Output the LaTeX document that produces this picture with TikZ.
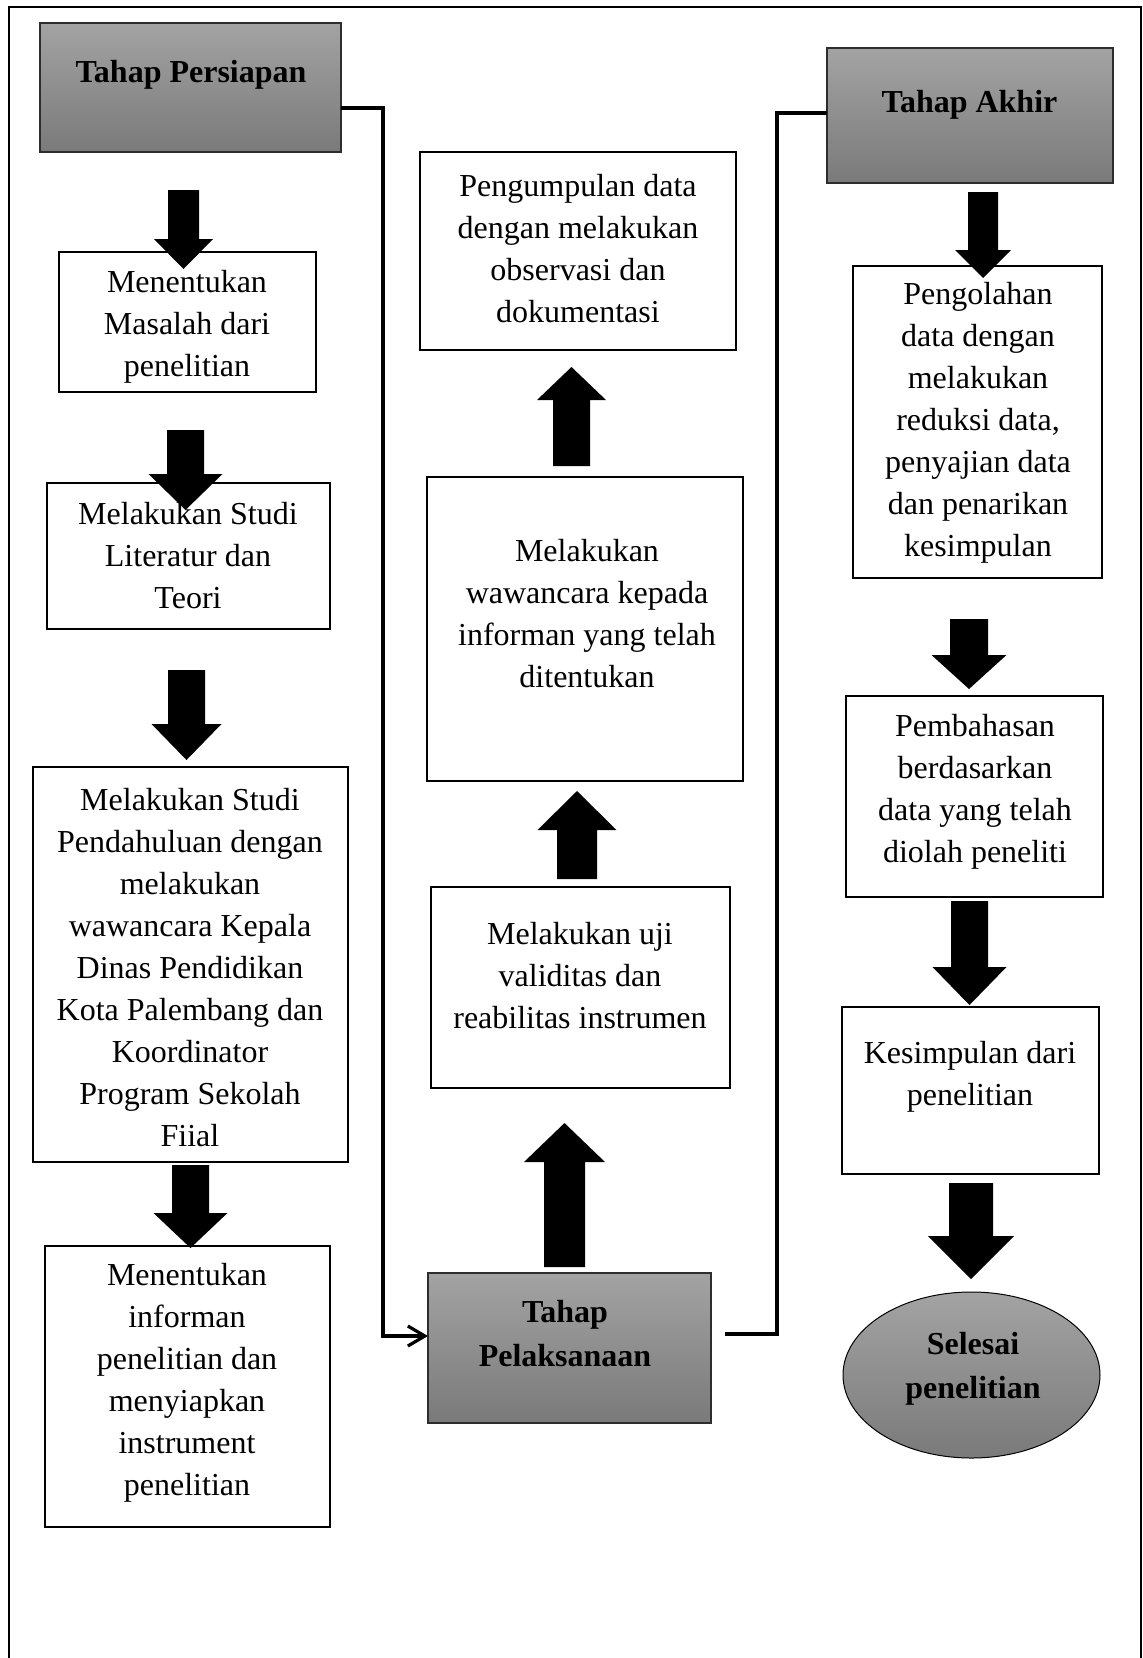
\documentclass[tikz,border=0pt]{standalone}
\usepackage{fontspec}
\setmainfont{Liberation Serif}
\usetikzlibrary{arrows.meta,calc,shapes.geometric}
\definecolor{gtop}{RGB}{163,163,163}
\definecolor{gbot}{RGB}{122,122,122}
\definecolor{gedge}{RGB}{45,45,45}
% block arrow from named point #1 to named point #2: shaft width #3, head width #4, head length #5
\newcommand{\blockarrow}[5]{%
  \path[blockfill] let \p1=(#1), \p2=(#2), \n1={sign(\y2-\y1)}, \n2={\y2-(\n1)*#5} in
    ({\x1-#3/2},\y1) -- ({\x1-#3/2},\n2) -- ({\x1-#4/2},\n2) -- (\x1,\y2)
    -- ({\x1+#4/2},\n2) -- ({\x1+#3/2},\n2) -- ({\x1+#3/2},\y1) -- cycle;}
\begin{document}
\begin{tikzpicture}[x=1pt,y=-1pt,
  box/.style={draw=black, line width=2pt, fill=white, inner sep=0pt, outer sep=0pt},
  phase/.style={draw=gedge, line width=1.4pt, top color=gtop, bottom color=gbot, inner sep=0pt, outer sep=0pt},
  endnode/.style={ellipse, draw=black, line width=1pt, top color=gtop, bottom color=gbot, inner sep=0pt, outer sep=0pt},
  txt/.style={align=center, inner sep=0pt, font=\fontsize{32}{42}\selectfont},
  btxt/.style={align=center, inner sep=0pt, font=\fontsize{32}{44}\selectfont\bfseries},
  conn/.style={line width=3.2pt, draw=black},
  frame/.style={line width=2pt, draw=black},
  blockfill/.style={fill=black}
]
\useasboundingbox (0,0) rectangle (1143,1658);
% outer frame (bottom edge cut off)
\draw[frame] (8.5,1658) -- (8.5,6.5) -- (1141,6.5) -- (1141,1658);

% phase boxes
\node[phase, minimum width=301pt, minimum height=129pt] (persiapan) at (190.5,87.5) {};
\node[phase, minimum width=283pt, minimum height=150pt] (pelaksanaan) at (569.5,1348) {};
\node[phase, minimum width=286pt, minimum height=135pt] (akhir) at (970,115.5) {};
\node[endnode, minimum width=257pt, minimum height=166pt] (selesai) at (971.5,1375) {};

% column 1
\node[box, minimum width=257pt, minimum height=140pt] (b1) at (187.5,322) {};
\node[box, minimum width=283pt, minimum height=146pt] (b2) at (188.5,556) {};
\node[box, minimum width=315pt, minimum height=395pt] (b3) at (190.5,964.5) {};
\node[box, minimum width=285pt, minimum height=281pt] (b4) at (187.5,1386.5) {};
% column 2
\node[box, minimum width=316pt, minimum height=198pt] (c1) at (578,251) {};
\node[box, minimum width=316pt, minimum height=304pt] (c2) at (585,629) {};
\node[box, minimum width=299pt, minimum height=201pt] (c3) at (580.5,987.5) {};
% column 3
\node[box, minimum width=249pt, minimum height=312pt] (d1) at (977.5,422) {};
\node[box, minimum width=257pt, minimum height=201pt] (d2) at (974.5,796.5) {};
\node[box, minimum width=257pt, minimum height=167pt] (d3) at (970.5,1090.5) {};

% texts
\node[btxt] (tpersiapan) at (191,75) {Tahap Persiapan};
\node[btxt] (tpelaksanaan) at (565,1334) {Tahap\\Pelaksanaan};
\node[btxt] (takhir) at (969.5,105) {Tahap Akhir};
\node[btxt] (tselesai) at (973,1368.5) {Selesai\\penelitian};
\node[txt] (tb1) at (187,327) {Menentukan\\Masalah dari\\penelitian};
\node[txt] (tb2) at (188,556) {Melakukan Studi\\Literatur dan\\Teori};
\node[txt] (tb3) at (190,968) {Melakukan Studi\\Pendahuluan dengan\\melakukan\\wawancara Kepala\\Dinas Pendidikan\\Kota Palembang dan\\Koordinator\\Program Sekolah\\Fiial};
\node[txt] (tb4) at (187,1383) {Menentukan\\informan\\penelitian dan\\menyiapkan\\instrument\\penelitian};
\node[txt] (tc1) at (578,249) {Pengumpulan data\\dengan melakukan\\observasi dan\\dokumentasi};
\node[txt] (tc2) at (587,614) {Melakukan\\wawancara kepada\\informan yang telah\\ditentukan};
\node[txt] (tc3) at (580,976) {Melakukan uji\\validitas dan\\reabilitas instrumen};
\node[txt] (td1) at (978,422.5) {Pengolahan\\data dengan\\melakukan\\reduksi data,\\penyajian data\\dan penarikan\\kesimpulan};
\node[txt] (td2) at (975,791.5) {Pembahasan\\berdasarkan\\data yang telah\\diolah peneliti};
\node[txt] (td3) at (970,1076.5) {Kesimpulan dari\\penelitian};

% line connectors
\draw[conn, -{Straight Barb[length=17pt,width=20pt]}] ([yshift=-20.5pt]persiapan.east) -- ++(42,0) |- ([yshift=12pt]pelaksanaan.west);
\draw[conn] ([xshift=14pt,yshift=14pt]pelaksanaan.east) -- ++(52,0) |- ([yshift=2.5pt]akhir.west);

% block arrow end points
\coordinate (a1s) at (183.5,190);  \coordinate (a1e) at (183.5,269);
\coordinate (a2s) at (185.5,430);  \coordinate (a2e) at (185.5,510);
\coordinate (a3s) at (186.5,670);  \coordinate (a3e) at (186.5,760);
\coordinate (a4s) at (190.5,1165); \coordinate (a4e) at (190.5,1248);
\coordinate (u1s) at (571.5,466);  \coordinate (u1e) at (571.5,367);
\coordinate (u2s) at (577,879);    \coordinate (u2e) at (577,791);
\coordinate (u3s) at (564.5,1267); \coordinate (u3e) at (564.5,1123);
\coordinate (v1s) at (983,192);    \coordinate (v1e) at (983,278);
\coordinate (v2s) at (969,619);    \coordinate (v2e) at (969,689);
\coordinate (v3s) at (969.5,901);  \coordinate (v3e) at (969.5,1005);
\coordinate (v4s) at (971,1183);   \coordinate (v4e) at (971,1279);

% block arrows
\blockarrow{a1s}{a1e}{31pt}{59pt}{30pt}
\blockarrow{a2s}{a2e}{37pt}{74pt}{36pt}
\blockarrow{a3s}{a3e}{37pt}{70pt}{36pt}
\blockarrow{a4s}{a4e}{37pt}{74pt}{35pt}
\blockarrow{u1s}{u1e}{37pt}{69pt}{33pt}
\blockarrow{u2s}{u2e}{40pt}{79pt}{39pt}
\blockarrow{u3s}{u3e}{41pt}{81pt}{39pt}
\blockarrow{v1s}{v1e}{30pt}{56pt}{28pt}
\blockarrow{v2s}{v2e}{38pt}{75pt}{34pt}
\blockarrow{v3s}{v3e}{37pt}{74pt}{38pt}
\blockarrow{v4s}{v4e}{44pt}{86pt}{43pt}
\end{tikzpicture}
\end{document}
